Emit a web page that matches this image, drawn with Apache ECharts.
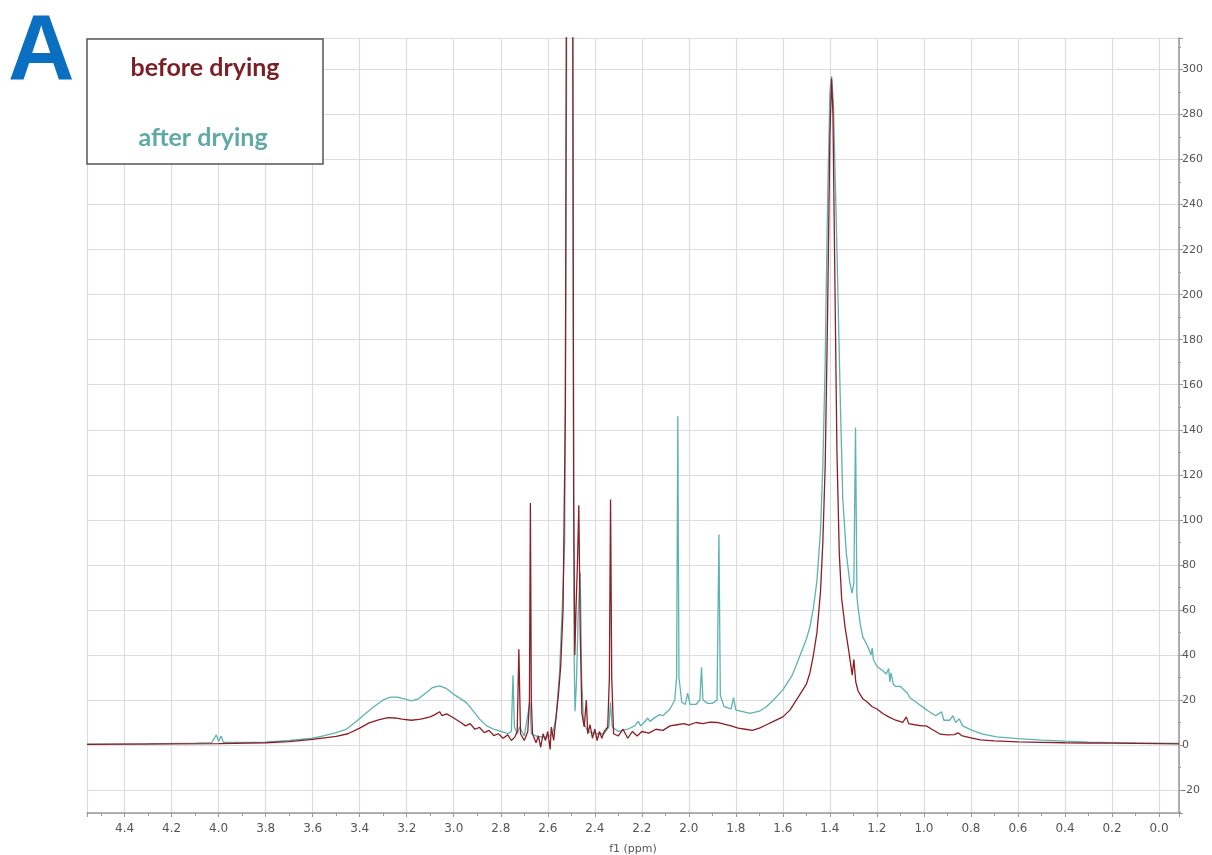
<!DOCTYPE html>
<html>
<head>
<meta charset="utf-8">
<title>NMR before / after drying</title>
<script src="https://cdn.jsdelivr.net/npm/echarts@6/dist/echarts.min.js"></script>
<style>
    html, body{
        margin: 0;
        padding: 0;
        background: #fff;
    }
    #chart{
        width: 1212px;
        height: 855px;
    }
</style>
</head>
<body>
<div id="chart"></div>
<script>
    // spectra: [ppm, intensity]
    var beforeDrying = [
        [4.56,0.3],[4.4,0.4],[4.2,0.5],[4.0,0.6],[3.8,1.0],[3.7,1.5],[3.6,2.5],[3.5,3.8],[3.45,5],[3.4,7.5],
        [3.36,9.8],[3.32,11.2],[3.28,12.2],[3.25,12],[3.22,11.5],[3.18,11],[3.14,11.5],[3.1,12.5],[3.08,13.5],
        [3.06,14.8],[3.05,13],[3.03,13.8],[3.0,12],[2.97,10],[2.95,8.5],[2.93,9.5],[2.91,7],[2.89,7.8],[2.87,5.5],
        [2.85,6.5],[2.83,4.2],[2.81,5],[2.79,3],[2.77,4.5],[2.755,2],[2.74,3.5],[2.73,6],[2.723,42.5],[2.716,5],
        [2.70,2],[2.685,6],[2.678,20],[2.674,107.5],[2.670,20],[2.665,5],[2.65,1],[2.64,4],[2.63,-1],[2.62,5],
        [2.61,2],[2.60,6],[2.59,-2],[2.585,8],[2.575,2],[2.565,12],[2.555,22],[2.545,35],[2.535,60],[2.525,150],
        [2.515,600],[2.505,1200],[2.498,600],[2.49,110],[2.485,40],[2.48,60],[2.474,80],[2.468,106.5],[2.462,50],
        [2.455,14],[2.445,8],[2.436,20],[2.43,5],[2.42,9],[2.41,3],[2.40,7],[2.39,2],[2.38,6],[2.37,3],[2.36,6],
        [2.345,8],[2.338,30],[2.333,109],[2.328,30],[2.32,5],[2.30,4],[2.28,7],[2.26,3],[2.24,6],[2.22,4],[2.20,6],
        [2.17,5.3],[2.14,7],[2.11,6.5],[2.08,8.5],[2.05,9],[2.02,9.5],[2.0,8.8],[1.97,10],[1.94,9.5],[1.91,10.2],
        [1.88,10],[1.85,9.3],[1.82,8.5],[1.79,7.5],[1.76,7],[1.73,6.5],[1.70,7.5],[1.67,9],[1.64,10.5],[1.60,12.5],
        [1.57,15.5],[1.53,22],[1.50,27],[1.485,32],[1.47,40],[1.455,50],[1.44,68],[1.43,90],[1.42,124],[1.41,190],
        [1.40,270],[1.393,296],[1.387,280],[1.378,200],[1.37,130],[1.36,85],[1.35,65],[1.335,52],[1.32,42],
        [1.305,31],[1.298,38],[1.29,28],[1.28,24],[1.26,20.5],[1.24,19],[1.22,17],[1.2,16],[1.175,14],[1.15,12.5],
        [1.12,11],[1.09,10],[1.075,12.5],[1.065,9.5],[1.04,9],[1.01,8.5],[0.99,8.5],[0.97,7.2],[0.95,6],[0.93,4.8],
        [0.90,4.5],[0.87,4.6],[0.855,5.4],[0.84,4.2],[0.80,3.2],[0.76,2.3],[0.70,1.8],[0.6,1.4],[0.5,1.2],[0.4,1.0],
        [0.3,0.9],[0.2,0.8],[0.1,0.7],[0.0,0.6],[-0.085,0.5]
    ];
    var afterDrying = [
        [4.56,0.4],[4.3,0.5],[4.1,0.8],[4.03,1.0],[4.01,4.5],[4.0,1.5],[3.99,4],[3.98,1.2],[3.8,1.3],[3.7,2],
        [3.6,3],[3.55,4.2],[3.5,5.5],[3.46,6.8],[3.42,10],[3.38,13.5],[3.34,17],[3.30,20],[3.27,21.3],[3.24,21.3],
        [3.21,20.5],[3.18,19.6],[3.15,20.5],[3.12,23],[3.09,25.5],[3.06,26.3],[3.03,25],[3.0,22.5],[2.97,20.5],
        [2.945,18.7],[2.92,15.5],[2.89,11.5],[2.86,8.5],[2.83,7],[2.80,6],[2.77,5],[2.755,6],[2.748,31],[2.742,8],
        [2.73,5],[2.72,8],[2.70,4],[2.676,19],[2.67,5],[2.65,4],[2.62,3.5],[2.60,3.5],[2.58,5],[2.565,12],[2.55,32],
        [2.535,70],[2.528,91],[2.52,300],[2.512,1200],[2.50,1200],[2.494,300],[2.488,40],[2.484,15],[2.478,28],
        [2.47,60],[2.462,76.5],[2.456,30],[2.448,10],[2.43,6],[2.40,5],[2.36,5],[2.34,8],[2.333,19],[2.326,8],
        [2.30,6],[2.26,7],[2.23,8.5],[2.215,10.5],[2.205,8.5],[2.19,10],[2.175,12],[2.166,10.5],[2.14,12.5],
        [2.125,13.5],[2.11,13],[2.08,16],[2.06,20],[2.052,30],
        [2.047,146],[2.042,30],[2.03,19],[2.015,18],[2.005,23],[1.995,18],[1.97,18],[1.953,20],[1.946,34.5],
        [1.94,20],[1.92,18.5],[1.90,18.5],[1.88,20],[1.872,93.5],[1.866,22],[1.85,17],[1.82,16],[1.81,21],
        [1.80,15.5],[1.78,15],[1.74,14],[1.70,15],[1.67,17],[1.64,20],[1.60,24.5],[1.56,31],[1.53,39],[1.50,47],
        [1.485,52.5],[1.47,61],[1.455,73],[1.44,95],[1.43,124],[1.42,170],[1.41,240],[1.40,290],[1.393,297],
        [1.385,285],[1.37,220],[1.355,150],[1.345,109],[1.33,85],[1.315,72],[1.306,67.5],[1.298,72],[1.291,141],
        [1.285,66],[1.28,61],[1.27,53],[1.26,48],[1.24,44],[1.225,40],[1.22,43],[1.215,38],[1.20,35],[1.175,33],
        [1.16,31.5],[1.15,34],[1.145,28],[1.14,32],[1.13,27],[1.12,26],[1.10,26],[1.07,23],[1.06,21],[1.04,19.5],
        [1.02,18],[1.0,16.5],[0.98,15],[0.95,13],[0.925,14.7],[0.915,11],[0.89,11],[0.877,13],[0.865,10],
        [0.85,11.6],[0.835,8.5],[0.80,6.7],[0.75,4.8],[0.69,3.6],[0.6,2.8],[0.5,2.2],[0.4,1.7],[0.3,1.3],
        [0.2,1.1],[0.1,0.9],[0.0,0.8],[-0.085,0.7]
    ];
    var seriesNames = ['before drying', 'after drying'];
    var seriesColors = ['#8c1f26', '#5db3af'];

    var myChart = echarts.init(document.getElementById('chart'));
    var option = {
        backgroundColor: '#fff',
        animation: false,
        grid: { left: 87, right: 33, top: 38, bottom: 42, containLabel: false, outerBoundsMode: 'none' },
        xAxis: {
            type: 'value',
            inverse: true,
            min: -0.085,
            max: 4.56,
            splitNumber: 23,
            minInterval: 0.2,
            maxInterval: 0.2,
            name: 'f1 (ppm)',
            nameLocation: 'middle',
            nameGap: 31,
            nameTextStyle: { fontSize: 11, color: '#555', fontFamily: 'DejaVu Sans' },
            axisLine: { show: true, onZero: false, lineStyle: { color: '#999', width: 1.5 } },
            axisTick: { show: true, inside: false, length: 4, lineStyle: { color: '#999' } },
            minorTick: { show: true, splitNumber: 2, length: 3, lineStyle: { color: '#999' } },
            axisLabel: {
                color: '#555', fontSize: 12, margin: 10, fontFamily: 'DejaVu Sans',
                showMinLabel: false, showMaxLabel: false,
                formatter: function (v) { return v.toFixed(1); }
            },
            splitLine: { show: true, lineStyle: { color: '#dcdcdc', width: 1.2 } }
        },
        yAxis: {
            type: 'value',
            position: 'right',
            min: -30.2,
            max: 314,
            splitNumber: 17,
            minInterval: 20,
            maxInterval: 20,
            axisLine: { show: true, onZero: false, lineStyle: { color: '#999', width: 1.5 } },
            axisTick: { show: true, inside: false, length: 4, lineStyle: { color: '#999' } },
            minorTick: { show: true, splitNumber: 2, length: 2, lineStyle: { color: '#999' } },
            axisLabel: {
                color: '#555', fontSize: 11, margin: 3, fontFamily: 'DejaVu Sans',
                showMinLabel: false, showMaxLabel: false
            },
            splitLine: { show: true, lineStyle: { color: '#dcdcdc', width: 1.2 } }
        },
        series: [{
            name: seriesNames[1],
            type: 'line',
            data: afterDrying,
            symbol: 'none',
            clip: true,
            lineStyle: { color: seriesColors[1], width: 1.3 },
            z: 2
        }, {
            name: seriesNames[0],
            type: 'line',
            data: beforeDrying,
            symbol: 'none',
            clip: true,
            lineStyle: { color: seriesColors[0], width: 1.3 },
            z: 3
        }],
        graphic: [{
            type: 'text',
            left: 8,
            top: 8,
            style: {
                text: 'A',
                font: 'bold 92px "Liberation Sans", Arial, sans-serif',
                fill: '#0b6fc1'
            },
            z: 10
        }, {
            type: 'rect',
            shape: { x: 87, y: 39, width: 236, height: 125 },
            style: { fill: '#fff', stroke: '#555', lineWidth: 1.5 },
            z: 10
        }, {
            type: 'text',
            x: 205,
            y: 68,
            style: {
                text: seriesNames[0],
                font: 'bold 25px Lato, "Open Sans", sans-serif',
                fill: '#7b1f27',
                align: 'center',
                verticalAlign: 'middle'
            },
            z: 11
        }, {
            type: 'text',
            x: 203,
            y: 138,
            style: {
                text: seriesNames[1],
                font: 'bold 25px Lato, "Open Sans", sans-serif',
                fill: '#5fa9a6',
                align: 'center',
                verticalAlign: 'middle'
            },
            z: 11
        }]
    };
    myChart.setOption(option);
</script>
</body>
</html>
